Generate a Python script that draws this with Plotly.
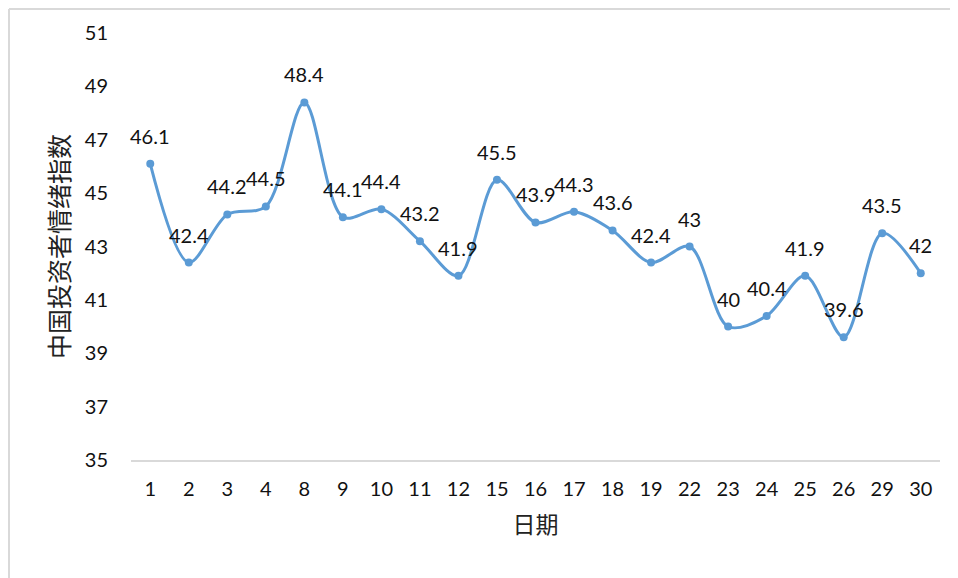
import plotly.graph_objects as go

dates = ["1", "2", "3", "4", "8", "9", "10", "11", "12", "15", "16", "17", "18", "19",
         "22", "23", "24", "25", "26", "29", "30"]
values = [46.1, 42.4, 44.2, 44.5, 48.4, 44.1, 44.4, 43.2, 41.9, 45.5, 43.9, 44.3, 43.6,
          42.4, 43, 40, 40.4, 41.9, 39.6, 43.5, 42]
y_ticks = [35, 37, 39, 41, 43, 45, 47, 49, 51]

LINE = "#5B9BD5"
NUMFONT = "Lato, 'Open Sans', sans-serif"
CJK = "'Noto Sans CJK SC', sans-serif"

idx = list(range(len(dates)))

fig = go.Figure()
fig.add_trace(go.Scatter(
    x=idx, y=values, mode="lines+markers",
    line=dict(color=LINE, width=3, shape="spline", smoothing=0.9),
    marker=dict(color=LINE, size=8),
    hoverinfo="skip", showlegend=False,
))

for i, v in zip(idx, values):
    fig.add_annotation(x=i, y=v, text=f"{v:g}", showarrow=False, yshift=28,
                       font=dict(family=NUMFONT, size=20, color="#111111"))

# page has an 8px body margin, so the figure is 950x570 placed at (8,8)
OFF = 8
W, H = 950, 570
L, R, T = 131 - OFF, 18, 33 - OFF
ph = 427
B = H - T - ph
pw = W - L - R

def px(x):
    return (x - OFF - L) / pw

def py(y):
    return (OFF + T + ph - y) / ph

fig.add_shape(type="line", xref="paper", yref="paper", x0=px(9), x1=px(970), y0=py(9), y1=py(9),
              line=dict(color="#D9D9D9", width=2))
fig.add_shape(type="line", xref="paper", yref="paper", x0=px(9), x1=px(9), y0=py(9), y1=py(590),
              line=dict(color="#D9D9D9", width=2))

fig.update_layout(
    width=W, height=H,
    margin=dict(l=L, r=R, t=T, b=B),
    paper_bgcolor="white", plot_bgcolor="white",
    xaxis=dict(tickmode="array", tickvals=idx, ticktext=dates, showgrid=False, zeroline=False,
               showline=True, linecolor="#D9D9D9", linewidth=2,
               ticks="", tickfont=dict(family=NUMFONT, size=20, color="#111111"),
               ticklabelstandoff=10,
               title=dict(text="日期", font=dict(family=CJK, size=23, color="#222222"), standoff=18),
               range=[-0.5, len(dates) - 0.5]),
    yaxis=dict(range=[35, 51], tickvals=y_ticks, showgrid=False, zeroline=False, showline=False,
               ticks="", tickfont=dict(family=NUMFONT, size=20, color="#111111"),
               ticklabelstandoff=22,
               title=dict(text="中国投资者情绪指数", font=dict(family=CJK, size=25, color="#222222"), standoff=8)),
)

fig.write_html("out.html")
